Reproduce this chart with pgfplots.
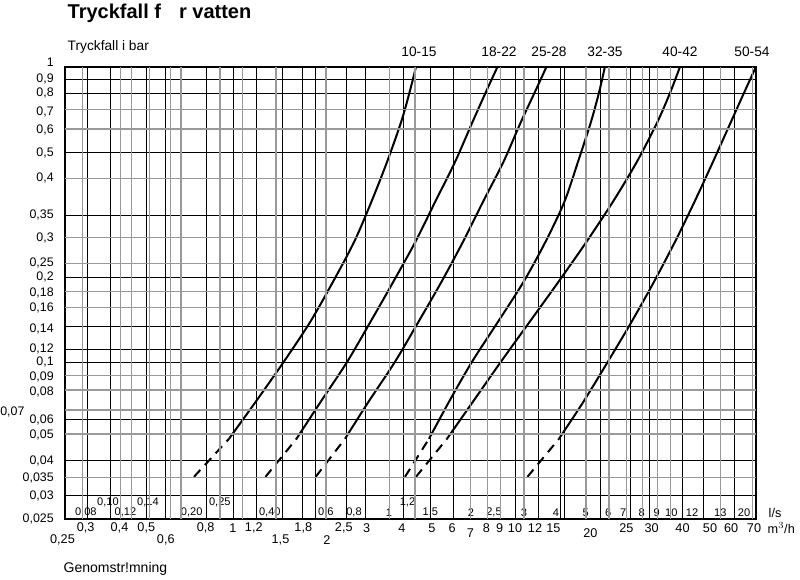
\documentclass[border=0pt]{standalone}
\usepackage{pgfplots}
\pgfplotsset{compat=1.18}
\usepackage{fontspec}
\setmainfont{Liberation Sans}
\newcommand{\fs}[1]{\fontsize{#1}{#1}\selectfont}
\tikzset{
  clab/.style={font=\fs{10.3}},
  ylab/.style={font=\fs{9.3}, anchor=east, inner sep=0pt},
  ilab/.style={font=\fs{8.3}, fill=white, inner sep=0.6pt},
  mlab/.style={font=\fs{9.5}},
}
\newcommand{\putnodes}[3]{% style, y, list x/text
  \foreach \x/\t in {#3} {\edef\tmp{\noexpand\node[#1] at (axis cs:\x,#2) {\t};}\tmp}}
\pgfplotsset{
  curve/.style={black, line width=1.5pt, smooth},
  dcurve/.style={black, line width=1.5pt, dash pattern=on 7pt off 5pt},
}
\begin{document}
\begin{tikzpicture}
\begin{axis}[
  scale only axis,
  width=518.25pt, height=339pt,
  xmin=65, xmax=756, ymin=65, ymax=517,
  y dir=reverse,
  clip=false,
  axis on top,
  axis line style={line width=1.6pt},
  tick style={draw=none},
  xticklabels={}, yticklabels={},
  xmajorgrids, ymajorgrids,
  major grid style={black, line width=0.6pt},
  xtick={87.3,110,146.7,165.7,206.7,233.3,256,282.7,302.7,315,346,365,403.3,430.7,453.3,515,538.3,560,564.3,600,630.7,649.3,682.3,703.3,734},
  extra x ticks={82.7,120.7,131.7,149.3,170.7,181,220,242.7,276,326,389.3,415,470.7,487.7,500.7,524,586,609,626.7,642.7,657.3,670.7,720.7,752.7},
  extra x tick labels={},
  extra x tick style={xmajorgrids, major grid style={black!40, line width=0.9pt}},
  ytick={77.7,91.7,150.3,213.3,275.7,325,347.7,360.3,417.7,458.3,493.3},
  extra y ticks={107.7,127.3,176.7,235.7,261.7,290,305.7,374,388.3,408.3,432.3,476},
  extra y tick labels={},
  extra y tick style={ymajorgrids, major grid style={black!40, line width=0.9pt}},
]
% invisible frame that fixes the picture size (800 x 574 px)
\path (axis cs:0,0) rectangle (axis cs:800,574);

% 10-15
\addplot[curve] coordinates {
 (229,437) (255.7,400) (283.8,360) (310.3,320) (333,280) (354.2,240) (371.4,200) (387.1,160) (401.2,120) (409.7,90) (416,65)};
\addplot[dcurve] coordinates {(194,475) (229,437)};
% 18-22
\addplot[curve] coordinates {
 (296.5,437) (320.7,400) (347.2,360) (370.5,320) (393.3,280) (415.4,240) (435.2,200) (455.1,160) (472.6,120) (486,90) (497.5,65)};
\addplot[dcurve] coordinates {(265.5,475) (296.5,437)};
% 25-28
\addplot[curve] coordinates {
 (345,437) (368.5,400) (395,360) (418.5,320) (441.5,280) (463,240) (483,200) (503.5,160) (521,120) (535,90) (546.5,65)};
\addplot[dcurve] coordinates {(315.7,475) (345,437)};
% 32-35
\addplot[curve] coordinates {
 (429,437) (449,400) (472,360) (498,320) (523.6,280) (545.5,240) (564.4,200) (578,160) (591,120) (599.2,90) (604.9,65)};
\addplot[dcurve] coordinates {(405,475) (429,437)};
% 40-42
\addplot[curve] coordinates {
 (447,437) (472.9,400) (500.9,360) (529.7,320) (558.5,280) (586.5,240) (612.9,200) (636.9,160) (657.5,120) (670.5,90) (680,65)};
\addplot[dcurve] coordinates {(416,475) (447,437)};
% 50-54
\addplot[curve] coordinates {
 (559,437) (583.4,400) (607.8,360) (631.6,320) (654,280) (675,240) (694.5,200) (713,160) (731,120) (744.5,90) (756,65)};
\addplot[dcurve] coordinates {(527.5,475) (559,437)};

% title and axis captions
\node[font=\bfseries\fs{15}, anchor=west] at (axis cs:63,12) {Tryckfall f\hspace{0.9em}r vatten};
\node[font=\fs{10.3}, anchor=west] at (axis cs:63,45) {Tryckfall i bar};
\node[font=\fs{10.5}, anchor=west] at (axis cs:59,567) {Genomstr!mning};

% curve labels
\putnodes{clab}{50}{419/10-15,499/18-22,549/25-28,605/32-35,680/40-42,752/50-54}

% y labels
\foreach \y/\t in {60/1,77/{0,9},91/{0,8},110/{0,7},128/{0,6},151/{0,5},176/{0,4},213/{0,35},236/{0,3},261/{0,25},275/{0,2},291/{0,18},306/{0,16},327/{0,14},347/{0,12},360/{0,1},375/{0,09},390/{0,08},418/{0,06},433/{0,05},459/{0,04},476/{0,035},494/{0,03},517/{0,025}}
  {\edef\tmp{\noexpand\node[ylab] at (axis cs:54,\y) {\t};}\tmp}
\node[font=\fs{9.3}, anchor=west, inner sep=0pt] at (axis cs:0,410) {0,07};

% inner l/s labels
\putnodes{ilab}{500.5}{108/{0,10},148/{0,14},219.8/{0,25},407.5/{1,2}}
\putnodes{ilab}{510.7}{85.8/{0,08},125.5/{0,12},191.7/{0,20},269.8/{0,40},325.8/{0,6},354/{0,8},389/1,430.3/{1,5},471/2,494/{2,5},524/3,556/4,585.8/5,608.3/6,623.3/7,641.7/8,656.7/9,671.3/10,692/12,720.3/13,744/20}
\node[font=\fs{9.5}, anchor=west] at (axis cs:764,510.7) {l/s};

% m3/h labels
\putnodes{mlab}{526}{85.7/{0,3},119.5/{0,4},146.3/{0,5},205.7/{0,8},233/1,253.8/{1,2},303.3/{1,8},343.8/{2,5},366.7/3,402/4,431.8/5,452.2/6,486.3/8,499.7/9,515/10,535/12,553.3/15,626.3/25,651.7/30,682.5/40,710/50,731.2/60,754/70}
\putnodes{mlab}{538}{62.5/{0,25},165.8/{0,6},280.5/{1,5},327/2}
\putnodes{mlab}{531}{470.3/7,590.3/20}
\node[font=\fs{9.5}, anchor=west] at (axis cs:763,526) {m$^{3}$/h};
\end{axis}
\end{tikzpicture}
\end{document}
